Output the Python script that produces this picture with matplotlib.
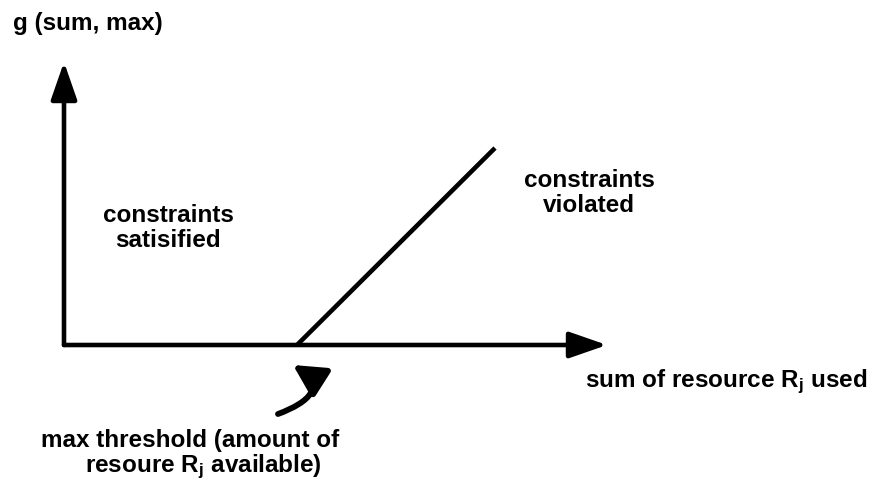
import matplotlib
matplotlib.use('Agg')
import matplotlib.pyplot as plt
from matplotlib.patches import FancyArrowPatch
from matplotlib.path import Path

plt.rcParams['font.family'] = 'Liberation Sans'
plt.rcParams['mathtext.fontset'] = 'custom'
plt.rcParams['mathtext.rm'] = 'Liberation Sans:bold'
plt.rcParams['mathtext.it'] = 'Liberation Sans:bold'

# diagram geometry (pixel space of the original figure)
origin = [64, 345]
y_axis_tip = [64, 62]
x_axis_tip = [607, 345]
threshold_line_x = [297, 495]
threshold_line_y = [345, 148]
# curled pointer under the threshold: start, two control points, tip
curl_pts = [(278, 414), (310, 402), (326, 386), (293, 365)]

# text lines: (text, x, baseline y, alignment)
text_lines = [
    ('g (sum, max)', 13, 30, 'left'),
    ('constraints', 168, 222, 'center'),
    ('satisified', 168, 247, 'center'),
    ('constraints', 589, 187, 'center'),
    ('violated', 589, 212, 'center'),
    ('sum of resource R$_{j}$ used', 585, 387, 'left'),
    ('max threshold (amount of', 190, 447, 'center'),
    ('resoure R$_{j}$ available)', 203, 472, 'center'),
]

fig = plt.figure(figsize=(8.83, 5.03), dpi=100)
ax = fig.add_axes([0, 0, 1, 1])
ax.set_xlim(0, 883)
ax.set_ylim(503, 0)
ax.axis('off')

arrow_style = dict(arrowstyle='-|>,head_length=2.3,head_width=0.8', color='black',
                   lw=3.3, shrinkA=0, shrinkB=0)
ax.annotate('', xy=y_axis_tip, xytext=origin, arrowprops=arrow_style)
ax.annotate('', xy=x_axis_tip, xytext=origin, arrowprops=arrow_style)

ax.plot(threshold_line_x, threshold_line_y, color='black', lw=3.3, solid_capstyle='butt')

curl = FancyArrowPatch(path=Path(curl_pts, [Path.MOVETO, Path.CURVE4, Path.CURVE4, Path.CURVE4]),
                       arrowstyle='-|>,head_length=1.9,head_width=1.0',
                       mutation_scale=10, color='black', lw=4.2,
                       transform=ax.transData)
ax.add_patch(curl)

for txt, x, y, ha in text_lines:
    ax.text(x, y, txt, fontsize=17.5, fontweight='bold', va='baseline', ha=ha)

fig.savefig('out.png', dpi=100)
